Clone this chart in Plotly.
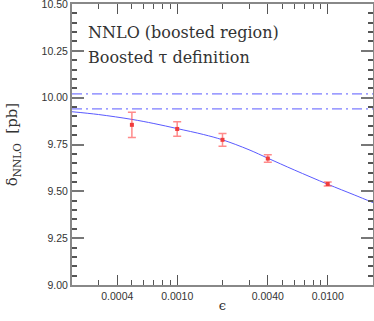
import plotly.graph_objects as go

# data points (epsilon, delta_NNLO, error)
eps_pts = [0.0005, 0.001, 0.002, 0.004, 0.01]
delta_pts = [9.855, 9.833, 9.775, 9.675, 9.539]
err_pts = [0.067, 0.039, 0.034, 0.020, 0.011]

# fitted curve
eps_fit = [0.0002, 0.0003, 0.0005, 0.0007, 0.001, 0.0015, 0.002, 0.003, 0.004, 0.006, 0.01, 0.015, 0.02]
delta_fit = [9.925, 9.910, 9.884, 9.862, 9.835, 9.803, 9.775, 9.722, 9.677, 9.614, 9.538, 9.481, 9.440]

# horizontal reference lines
ref_upper = 10.02
ref_lower = 9.94
x_span = [0.0002, 0.02]

xtick_vals = [0.0004, 0.001, 0.004, 0.01]
xtick_text = ["0.0004", "0.0010", "0.0040", "0.0100"]
xminor_vals = [0.0003, 0.0005, 0.0006, 0.0007, 0.0008, 0.0009, 0.002, 0.003,
               0.005, 0.006, 0.007, 0.008, 0.009, 0.02]
ytick_vals = [9.0, 9.25, 9.5, 9.75, 10.0, 10.25, 10.5]
ytick_text = ["9.00", "9.25", "9.50", "9.75", "10.00", "10.25", "10.50"]

blue = "rgb(90,90,255)"
fig = go.Figure()
for v in [ref_upper, ref_lower]:
    fig.add_trace(go.Scatter(x=x_span, y=[v, v], mode="lines",
                             line=dict(color=blue, width=1, dash="10px,4px,2px,4px"),
                             showlegend=False, hoverinfo="skip"))
fig.add_trace(go.Scatter(x=eps_fit, y=delta_fit, mode="lines",
                         line=dict(color=blue, width=1, shape="spline"),
                         showlegend=False))
fig.add_trace(go.Scatter(x=eps_pts, y=delta_pts, mode="markers",
                         marker=dict(symbol="square", size=4, color="rgb(240,60,60)"),
                         error_y=dict(type="data", array=err_pts, color="rgba(255,90,90,0.7)",
                                      thickness=1.5, width=4),
                         showlegend=False))

axcol = "#888888"
fig.update_layout(
    width=374, height=321,
    margin=dict(l=72, r=1, t=4, b=36, autoexpand=False),
    plot_bgcolor="white", paper_bgcolor="white",
    font=dict(family="Liberation Sans", size=10.5, color="#333333"),
    xaxis=dict(type="log", range=[-3.69897, -1.69897],
               tickvals=xtick_vals, ticktext=xtick_text,
               ticks="inside", ticklen=10, tickcolor="#555555", tickwidth=1,
               showline=True, linecolor=axcol, linewidth=2, mirror="allticks",
               showgrid=False, zeroline=False, automargin=False,
               minor=dict(tickvals=xminor_vals, ticks="inside", ticklen=5, tickcolor="#555555"),
               title=dict(text="ϵ", font=dict(family="DejaVu Serif", size=13, color="#333333"), standoff=0)),
    yaxis=dict(range=[9.0, 10.5], tickvals=ytick_vals, ticktext=ytick_text,
               ticks="inside", ticklen=12, tickcolor="#777777", tickwidth=2,
               showline=True, linecolor=axcol, linewidth=2, mirror="allticks",
               showgrid=False, zeroline=False, automargin=False, ticklabeloverflow="allow",
               minor=dict(dtick=0.05, ticks="inside", ticklen=5, tickcolor="#555555"),
               title=dict(text="δ<sub>NNLO</sub>  [pb]", font=dict(family="DejaVu Serif", size=15, color="#333333"), standoff=20)),
    annotations=[
        dict(text="NNLO (boosted region)", xref="paper", yref="paper", x=0.045, y=0.897,
             xanchor="left", yanchor="middle", showarrow=False,
             font=dict(family="DejaVu Serif", size=16, color="#333333")),
        dict(text="Boosted τ definition", xref="paper", yref="paper", x=0.045, y=0.81,
             xanchor="left", yanchor="middle", showarrow=False,
             font=dict(family="DejaVu Serif", size=16, color="#333333")),
    ],
)
fig.write_html("out.html", config={"displayModeBar": False},
               post_script="document.body.style.margin='0';")
